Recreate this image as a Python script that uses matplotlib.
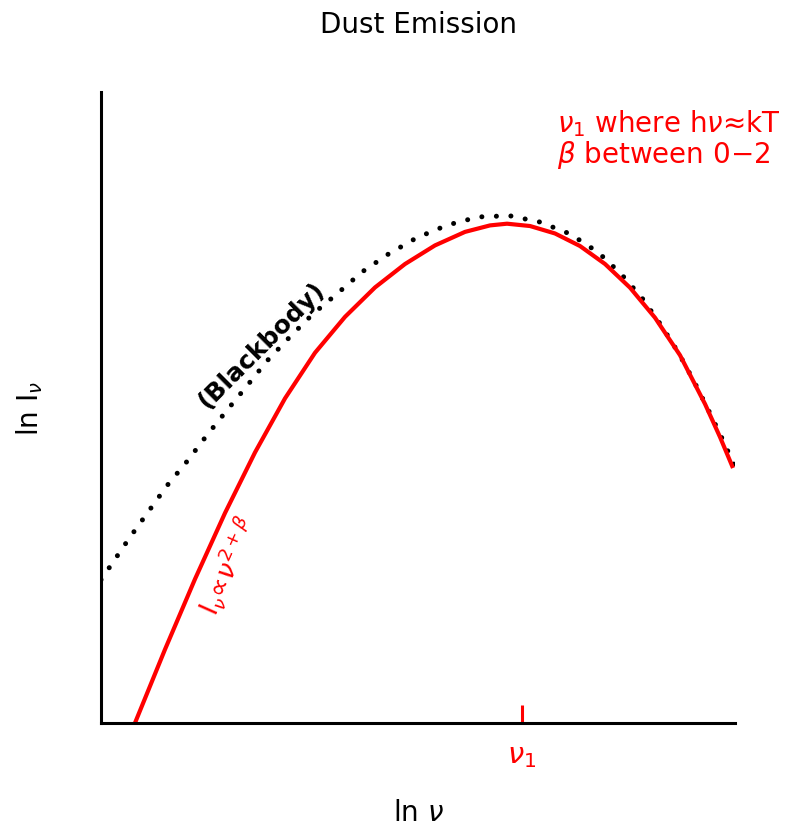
import matplotlib
matplotlib.use('Agg')
import matplotlib.pyplot as plt

# modified blackbody (red), ln nu vs ln I_nu (arbitrary units)
dust_x = [0.536, 1.009, 1.483, 1.956, 2.429, 2.902, 3.375, 3.849, 4.322, 4.795,
          5.268, 5.741, 6.136, 6.404, 6.767, 7.161, 7.555, 7.950, 8.344, 8.738,
          9.132, 9.527, 9.763, 9.968]
dust_y = [0.000, 1.165, 2.282, 3.328, 4.288, 5.144, 5.867, 6.437, 6.903, 7.274,
          7.569, 7.783, 7.886, 7.913, 7.876, 7.758, 7.559, 7.274, 6.899, 6.423,
          5.829, 5.055, 4.532, 4.041]

# pure blackbody (dotted)
bb_x = [0.00, 0.17, 0.44, 0.74, 1.04, 1.36, 1.67, 1.99, 2.30, 2.62, 2.98, 3.34,
        3.72, 4.12, 4.53, 4.98, 5.46, 5.95, 6.44, 6.92, 7.40, 7.84, 8.20, 8.53,
        8.83, 9.10, 9.35, 9.57, 9.80, 10.0]
bb_y = [2.27, 2.52, 2.92, 3.34, 3.76, 4.15, 4.56, 4.96, 5.34, 5.74, 6.12, 6.48,
        6.80, 7.15, 7.43, 7.69, 7.89, 8.02, 8.04, 7.94, 7.75, 7.46, 7.12, 6.74,
        6.31, 5.88, 5.42, 4.98, 4.50, 4.06]

nu1 = 6.64

fig = plt.figure(figsize=(7.96, 8.29), dpi=100)
ax = fig.add_axes([0.1269, 0.1267, 0.7965, 0.7611])

ax.plot(bb_x, bb_y, color='black', linewidth=3.6, linestyle=(0, (0.01, 2.9)),
        dash_capstyle='round')
ax.plot(dust_x, dust_y, color='red', linewidth=3.0, solid_capstyle='butt',
        solid_joinstyle='round')

ax.set_xlim(0, 10)
ax.set_ylim(0, 10)
for s in ['top', 'right']:
    ax.spines[s].set_visible(False)
for s in ['left', 'bottom']:
    ax.spines[s].set_linewidth(2.2)

ax.set_yticks([])
ax.set_xticks([nu1])
ax.set_xticklabels([r'$\nu_1$'], color='red', fontsize=21)
ax.tick_params(axis='x', direction='in', length=13, width=2.2, color='red', pad=13)

ax.set_title('Dust Emission', fontsize=20, pad=43)
ax.set_xlabel(r'ln $\nu$', fontsize=20, va='center')
ax.xaxis.set_label_coords(0.5, -0.141)
ax.set_ylabel(r'ln I$_\nu$', fontsize=20, va='center')
ax.yaxis.set_label_coords(-0.112, 0.5)

ax.text(0.719, 0.938, r'$\nu_1$ where h$\nu$≈kT', transform=ax.transAxes,
        ha='left', va='baseline', color='red', fontsize=20)
ax.text(0.719, 0.889, r'$\beta$ between 0$-$2', transform=ax.transAxes,
        ha='left', va='baseline', color='red', fontsize=20)
ax.text(2.54, 6.01, '(Blackbody)', rotation=45, ha='center', va='center',
        fontsize=18, fontweight='bold')
ax.text(2.0, 2.5, r'I$_\nu\!\propto\!\nu^{2+\beta}$', rotation=66, ha='center',
        va='center', color='red', fontsize=19)

fig.savefig('out.png', dpi=100)
